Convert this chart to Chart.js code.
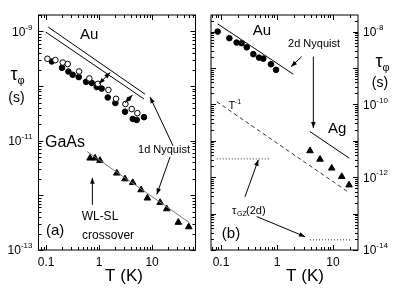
<!DOCTYPE html>
<html>
<head>
<meta charset="utf-8">
<script src="https://cdn.jsdelivr.net/npm/chart.js@4"></script>
<style>
  body { margin: 0; background: #fff; }
  .wrap { position: relative; width: 399px; height: 296px; }
  canvas { position: absolute; left: 0; top: 0; }
</style>
</head>
<body>
<div class="wrap">
  <canvas id="chart-a" width="399" height="296"></canvas>
  <canvas id="chart-b" width="399" height="296"></canvas>
</div>
<script>
// panel (a): Au wires and GaAs
const auOpenT = [0.106, 0.15, 0.207, 0.256, 0.42, 0.656, 0.95, 1.5, 2.09, 3.14, 4.13, 5.28];
const auOpenTau = [3.16e-10, 2.99e-10, 2.7e-10, 2.53e-10, 1.85e-10, 1.38e-10, 1.1e-10, 8.5e-11, 5.85e-11, 4.7e-11, 3.8e-11, 3.2e-11];
const auFilledT = [0.128, 0.2, 0.264, 0.318, 0.414, 0.569, 0.728, 0.905, 1.12, 1.46, 2.03, 3.09, 4.32, 5.13, 7.06];
const auFilledTau = [2.82e-10, 2.16e-10, 1.85e-10, 1.61e-10, 1.46e-10, 1.2e-10, 1.14e-10, 9.6e-11, 9.0e-11, 6.2e-11, 4.9e-11, 3.4e-11, 2.5e-11, 2.4e-11, 2.7e-11];
const gaasT = [0.676, 0.84, 1.04, 2.16, 3.09, 4.32, 6.2, 8.16, 14.2, 18.9, 31.3, 49.2];
const gaasTau = [4.8e-12, 4.8e-12, 4.34e-12, 2.55e-12, 2.0e-12, 1.71e-12, 1.26e-12, 8.9e-13, 7.4e-13, 5.66e-13, 3.2e-13, 2.65e-13];
const nyqUpperT = [0.11, 7.38];
const nyqUpperTau = [1.2e-9, 7.1e-11];
const nyqLowerT = [0.0987, 7.06];
const nyqLowerTau = [9.75e-10, 5.8e-11];
const gaasLineT = [0.6, 50.6];
const gaasLineTau = [6.3e-12, 3.18e-13];

// panel (b): Au and Ag films
const auFilmT = [0.0873, 0.141, 0.19, 0.234, 0.288, 0.378, 0.477, 0.569, 0.78, 0.96];
const auFilmTau = [1.0e-8, 6.6e-9, 5.0e-9, 4.8e-9, 3.7e-9, 2.4e-9, 1.93e-9, 1.81e-9, 1.27e-9, 8.9e-10];
const agT = [3.88, 5.86, 9.48, 14.3, 19.3];
const agTau = [5.3e-12, 3.1e-12, 1.77e-12, 1.04e-12, 6.1e-13];
const nyq2dAuT = [0.0873, 1.95];
const nyq2dAuTau = [1.63e-8, 6.76e-10];
const nyq2dAgT = [3.88, 19.5];
const nyq2dAgTau = [1.79e-11, 3.33e-12];
const invTT = [0.0838, 18.3];
const invTTau = [1.19e-10, 4.0e-13];
const gzHighT = [0.084, 0.75];
const gzHighTau = [3.18e-12, 3.18e-12];
const gzLowT = [3.88, 20.1];
const gzLowTau = [1.9e-14, 1.9e-14];

// axes
const xTickLabels = [0.1, 1, 10];
const yExpA = [-9, -11, -13];
const yExpB = [-8, -10, -12, -14];

const FONT = '"Liberation Sans", Arial, sans-serif';

function pts(xs, ys) {
  return xs.map((x, i) => ({ x, y: ys[i] }));
}

function marks(xs, ys, style, radius, fill) {
  return {
    data: pts(xs, ys), showLine: false, pointStyle: style, pointRadius: radius,
    pointBackgroundColor: fill, pointBorderColor: '#000', pointBorderWidth: 1
  };
}

function line(xs, ys, color, dash) {
  return {
    data: pts(xs, ys), showLine: true, pointRadius: 0, borderColor: color,
    borderWidth: 1, borderDash: dash || []
  };
}

function logTicks(min, max) {
  const out = [];
  for (let e = Math.floor(Math.log10(min)); e <= Math.ceil(Math.log10(max)); e++) {
    for (let k = 1; k < 10; k++) {
      const v = k * Math.pow(10, e);
      if (v >= min * 0.999 && v <= max * 1.001) out.push({ v, major: k === 1 });
    }
  }
  return out;
}

function arrow(ctx, x1, y1, x2, y2, both) {
  ctx.beginPath();
  ctx.moveTo(x1, y1);
  ctx.lineTo(x2, y2);
  ctx.stroke();
  head(ctx, x1, y1, x2, y2);
  if (both) head(ctx, x2, y2, x1, y1);
}

function head(ctx, x1, y1, x2, y2) {
  const a = Math.atan2(y2 - y1, x2 - x1);
  const len = 6, w = 2.3;
  ctx.beginPath();
  ctx.moveTo(x2, y2);
  ctx.lineTo(x2 - len * Math.cos(a) + w * Math.sin(a), y2 - len * Math.sin(a) - w * Math.cos(a));
  ctx.lineTo(x2 - len * Math.cos(a) - w * Math.sin(a), y2 - len * Math.sin(a) + w * Math.cos(a));
  ctx.closePath();
  ctx.fill();
}

// 10^n with a raised exponent
function pow10(ctx, exp, x, y, alignRight) {
  ctx.font = '12px ' + FONT;
  const wb = ctx.measureText('10').width;
  ctx.font = '8px ' + FONT;
  const ws = ctx.measureText('-' + Math.abs(exp)).width;
  const start = alignRight ? x - wb - ws : x;
  ctx.textAlign = 'left';
  ctx.textBaseline = 'middle';
  ctx.font = '12px ' + FONT;
  ctx.fillText('10', start, y);
  ctx.font = '8px ' + FONT;
  ctx.fillText('-' + Math.abs(exp), start + wb, y - 5);
}

function text(ctx, str, x, y, size) {
  ctx.font = size + 'px ' + FONT;
  ctx.textAlign = 'center';
  ctx.textBaseline = 'middle';
  ctx.fillText(str, x, y);
}

// frame, inward ticks on all sides, tick labels, axis titles
function frame(chart, yExps, side, tauPos, sPos, tPos) {
  const ctx = chart.ctx, a = chart.chartArea;
  const xs = chart.scales.x, ys = chart.scales.y;
  ctx.save();
  ctx.strokeStyle = '#000';
  ctx.fillStyle = '#000';
  ctx.lineWidth = 1;
  ctx.strokeRect(a.left, a.top, a.right - a.left, a.bottom - a.top);
  ctx.beginPath();
  logTicks(xs.min, xs.max).forEach(t => {
    const p = Math.round(xs.getPixelForValue(t.v)) + 0.5;
    const len = t.major ? 5 : 3;
    ctx.moveTo(p, a.bottom); ctx.lineTo(p, a.bottom - len);
    ctx.moveTo(p, a.top); ctx.lineTo(p, a.top + len);
  });
  logTicks(ys.min, ys.max).forEach(t => {
    const p = Math.round(ys.getPixelForValue(t.v)) + 0.5;
    const len = t.major ? 5 : 3;
    ctx.moveTo(a.left, p); ctx.lineTo(a.left + len, p);
    ctx.moveTo(a.right, p); ctx.lineTo(a.right - len, p);
  });
  ctx.stroke();

  xTickLabels.forEach(v => text(ctx, String(v), xs.getPixelForValue(v), a.bottom + 13, 12));
  yExps.forEach(e => {
    const p = ys.getPixelForValue(Math.pow(10, e));
    if (side === 'left') pow10(ctx, e, a.left - 6, p + 1, true);
    else pow10(ctx, e, a.right + 5, p + 1, false);
  });

  text(ctx, 'T (K)', tPos, a.bottom + 26, 17);
  ctx.font = '18px ' + FONT;
  ctx.textAlign = 'center';
  ctx.fillText('τ', tauPos[0], tauPos[1]);
  ctx.font = '11px ' + FONT;
  ctx.fillText('φ', tauPos[0] + 7, tauPos[1] + 6);
  text(ctx, '(s)', sPos[0], sPos[1], 14);
  ctx.restore();
}

function baseOptions(padding, xMin, xMax, yMin, yMax, plugin) {
  return {
    responsive: false,
    animation: false,
    devicePixelRatio: 1,
    layout: { padding },
    plugins: { legend: { display: false }, tooltip: { enabled: false } },
    scales: {
      x: { type: 'logarithmic', min: xMin, max: xMax, display: false },
      y: { type: 'logarithmic', min: yMin, max: yMax, display: false }
    }
  };
}

const panelA = {
  id: 'panelA',
  afterDraw(chart) {
    const ctx = chart.ctx, xs = chart.scales.x, ys = chart.scales.y;
    const X = v => xs.getPixelForValue(v), Y = v => ys.getPixelForValue(v);
    frame(chart, yExpA, 'left', [14, 75], [16.5, 98], 124);
    ctx.save();
    ctx.fillStyle = '#000';
    ctx.strokeStyle = '#000';
    ctx.lineWidth = 1;
    text(ctx, 'Au', X(0.648), Y(8.7e-10), 15);
    text(ctx, 'GaAs', X(0.228), Y(9.1e-12), 16);
    text(ctx, '1d Nyquist', X(16.8), Y(6.8e-12), 11);
    text(ctx, 'WL-SL', X(1.04), Y(4.0e-13), 12);
    text(ctx, 'crossover', X(1.48), Y(1.8e-13), 12);
    text(ctx, '(a)', X(0.148), Y(2.24e-13), 15);
    arrow(ctx, X(24.9), Y(8.05e-12), X(9.17), Y(6.3e-11));
    arrow(ctx, X(21.9), Y(5.07e-12), X(12.3), Y(1.04e-12));
    arrow(ctx, X(0.748), Y(6.7e-13), X(0.748), Y(2.09e-12));
    arrow(ctx, X(1.0), Y(1.1e-10), X(1.61), Y(1.77e-10), true);
    arrow(ctx, X(3.09), Y(4.9e-11), X(4.25), Y(6.9e-11), true);
    ctx.restore();
  }
};

const panelB = {
  id: 'panelB',
  afterDraw(chart) {
    const ctx = chart.ctx, xs = chart.scales.x, ys = chart.scales.y;
    const X = v => xs.getPixelForValue(v), Y = v => ys.getPixelForValue(v);
    frame(chart, yExpB, 'right', [379, 62], [380, 83], 305);
    ctx.save();
    ctx.fillStyle = '#000';
    ctx.strokeStyle = '#000';
    ctx.lineWidth = 1;
    text(ctx, 'Au', X(0.54), Y(1.05e-8), 15);
    text(ctx, '2d Nyquist', X(4.58), Y(4.6e-9), 11);
    text(ctx, 'Ag', X(11.8), Y(2.1e-11), 15);
    // T^-1 label
    ctx.font = '11px ' + FONT;
    ctx.textAlign = 'center';
    ctx.textBaseline = 'middle';
    ctx.fillText('T', X(0.157), Y(9.1e-11));
    ctx.font = '7px ' + FONT;
    ctx.fillText('-1', X(0.157) + 6, Y(9.1e-11) - 4);
    // tau_GZ(2d) label
    const gx = X(0.316) - 17, gy = Y(1.17e-13);
    ctx.textAlign = 'left';
    ctx.font = '11px ' + FONT;
    ctx.fillText('τ', gx, gy);
    ctx.font = '7px ' + FONT;
    ctx.fillText('GZ', gx + 5, gy + 3);
    ctx.font = '11px ' + FONT;
    ctx.fillText('(2d)', gx + 14, gy);
    text(ctx, '(b)', X(0.151), Y(2.75e-14), 15);
    arrow(ctx, X(2.76), Y(2.06e-9), X(1.78), Y(1.09e-9));
    arrow(ctx, X(4.45), Y(2.06e-9), X(4.45), Y(2.26e-11));
    arrow(ctx, X(0.268), Y(2.9e-13), X(0.464), Y(3.0e-12));
    arrow(ctx, X(0.434), Y(8.3e-14), X(3.16), Y(2.33e-14));
    ctx.restore();
  }
};

new Chart(document.getElementById('chart-a'), {
  type: 'scatter',
  data: {
    datasets: [
      line(nyqUpperT, nyqUpperTau, '#000'),
      line(nyqLowerT, nyqLowerTau, '#000'),
      line(gaasLineT, gaasLineTau, '#777'),
      marks(auOpenT, auOpenTau, 'circle', 2.8, '#fff'),
      marks(auFilledT, auFilledTau, 'circle', 2.8, '#000'),
      marks(gaasT, gaasTau, 'triangle', 3.8, '#000')
    ]
  },
  options: baseOptions({ left: 38.5, right: 203.5, top: 15, bottom: 46 }, 0.072, 66, 1e-13, 2.0e-9),
  plugins: [panelA]
});

new Chart(document.getElementById('chart-b'), {
  type: 'scatter',
  data: {
    datasets: [
      line(nyq2dAuT, nyq2dAuTau, '#000'),
      line(nyq2dAgT, nyq2dAgTau, '#000'),
      line(invTT, invTTau, '#333', [4, 3]),
      line(gzHighT, gzHighTau, '#333', [1, 2]),
      line(gzLowT, gzLowTau, '#333', [1, 2]),
      marks(auFilmT, auFilmTau, 'circle', 2.8, '#000'),
      marks(agT, agTau, 'triangle', 3.8, '#000')
    ]
  },
  options: baseOptions({ left: 211, right: 41, top: 15, bottom: 46 }, 0.0663, 27.9, 1e-14, 2.86e-8),
  plugins: [panelB]
});
</script>
</body>
</html>
